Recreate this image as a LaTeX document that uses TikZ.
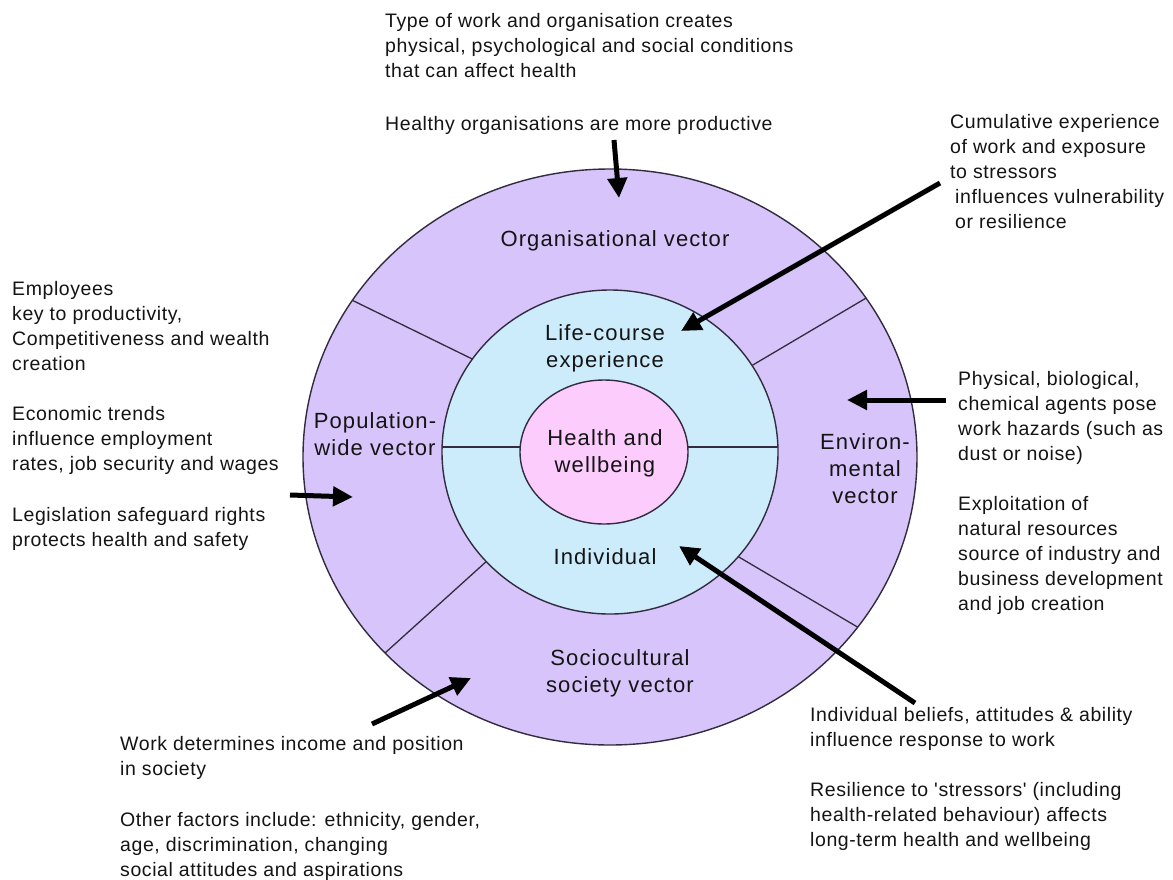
\documentclass[tikz,border=0pt]{standalone}
\usepackage{fontspec}
\newfontfamily\outfont{Liberation Sans}[LetterSpace=3]
\newfontfamily\infont{Liberation Sans}[LetterSpace=5]
\usetikzlibrary{arrows.meta}
\definecolor{lilac}{RGB}{214,196,250}
\definecolor{skyb}{RGB}{204,236,252}
\definecolor{pinkc}{RGB}{252,204,252}
\definecolor{edge}{RGB}{50,44,62}
\definecolor{ink}{RGB}{20,20,20}
\begin{document}
\begin{tikzpicture}[x=1pt,y=-1pt,
  outtxt/.style={font=\outfont\fontsize{19.5}{25}\selectfont, text=ink, align=left, anchor=north west, inner sep=0pt},
  intxt/.style={font=\infont\fontsize{22}{27}\selectfont, text=ink, align=center, inner sep=0pt},
  ring/.style={draw=edge, line width=1.4pt},
  divider/.style={draw=edge, line width=1.3pt},
  bigarrow/.style={draw=black, line width=5pt, -{Triangle[length=20pt,width=19pt]}}]
\useasboundingbox (0,0) rectangle (1173,879);
\fill[white] (0,0) rectangle (1173,879);

% rings
\fill[lilac] (610,457) ellipse [x radius=307pt, y radius=288pt];
\begin{scope}
  \clip (610,457) ellipse [x radius=307pt, y radius=288pt];
  \draw[divider] (505,375) -- (317,283);
  \draw[divider] (719,385) -- (900,278);
  \draw[divider] (509,541) -- (354,681);
  \draw[divider] (705,537) -- (893,648);
\end{scope}
\filldraw[fill=skyb, ring] (610,452) ellipse [x radius=168pt, y radius=162pt];
\draw[divider] (442,447) -- (778,447);
\filldraw[fill=pinkc, ring] (604,452) ellipse [x radius=84pt, y radius=72pt];
\draw[ring] (610,457) ellipse [x radius=307pt, y radius=288pt];

% ring labels
\node[intxt] (org) at (615,241) {Organisational vector};
\node[intxt] (life) at (605,348) {Life-course\\experience};
\node[intxt] (health) at (605,453) {Health and\\wellbeing};
\node[intxt] (indiv) at (605,557) {Individual};
\node[intxt] (pop) at (375,434) {Population-\\wide vector};
\node[intxt] (env) at (865,469) {Environ-\\mental\\vector};
\node[intxt] (socio) at (620,673) {Sociocultural\\society vector};

% outer texts
\node[outtxt] (top1) at (385,13) {Type of work and organisation creates\\physical, psychological and social conditions\\that can affect health};
\node[outtxt] (top2) at (385,116) {Healthy organisations are more productive};
\node[outtxt] (tr) at (950,114) {Cumulative experience\\of work and exposure\\to stressors\\\hspace*{5pt}influences vulnerability\\\hspace*{5pt}or resilience};
\node[outtxt] (l1) at (12,281) {Employees\\key to productivity,\\Competitiveness and wealth\\creation};
\node[outtxt] (l2) at (12,406) {Economic trends\\influence employment\\rates, job security and wages};
\node[outtxt] (l3) at (12,507) {Legislation safeguard rights\\protects health and safety};
\node[outtxt] (r1) at (958,371) {Physical, biological,\\chemical agents pose\\work hazards (such as\\dust or noise)};
\node[outtxt] (r2) at (958,496) {Exploitation of\\natural resources\\source of industry and\\business development\\and job creation};
\node[outtxt] (br1) at (810,707) {Individual beliefs, attitudes \& ability\\influence response to work};
\node[outtxt] (br2) at (810,782) {Resilience to 'stressors' (including\\health-related behaviour) affects\\long-term health and wellbeing};
\node[outtxt] (bl1) at (120,736) {Work determines income and position\\in society};
\node[outtxt] (bl2) at (120,812) {Other factors include: ethnicity, gender,\\age, discrimination, changing\\social attitudes and aspirations};

% arrows
\coordinate (a1s) at (614,140); \coordinate (a1e) at (619,198);
\coordinate (a2s) at (940,183); \coordinate (a2e) at (681,331);
\coordinate (a3s) at (946,400); \coordinate (a3e) at (847,400);
\coordinate (a4s) at (290,495); \coordinate (a4e) at (353,497);
\coordinate (a5s) at (372,724); \coordinate (a5e) at (471,678);
\coordinate (a6s) at (915,703); \coordinate (a6e) at (679,546);
\draw[bigarrow] (a1s) -- (a1e);
\draw[bigarrow] (a2s) -- (a2e);
\draw[bigarrow] (a3s) -- (a3e);
\draw[bigarrow] (a4s) -- (a4e);
\draw[bigarrow] (a5s) -- (a5e);
\draw[bigarrow] (a6s) -- (a6e);
\end{tikzpicture}
\end{document}
